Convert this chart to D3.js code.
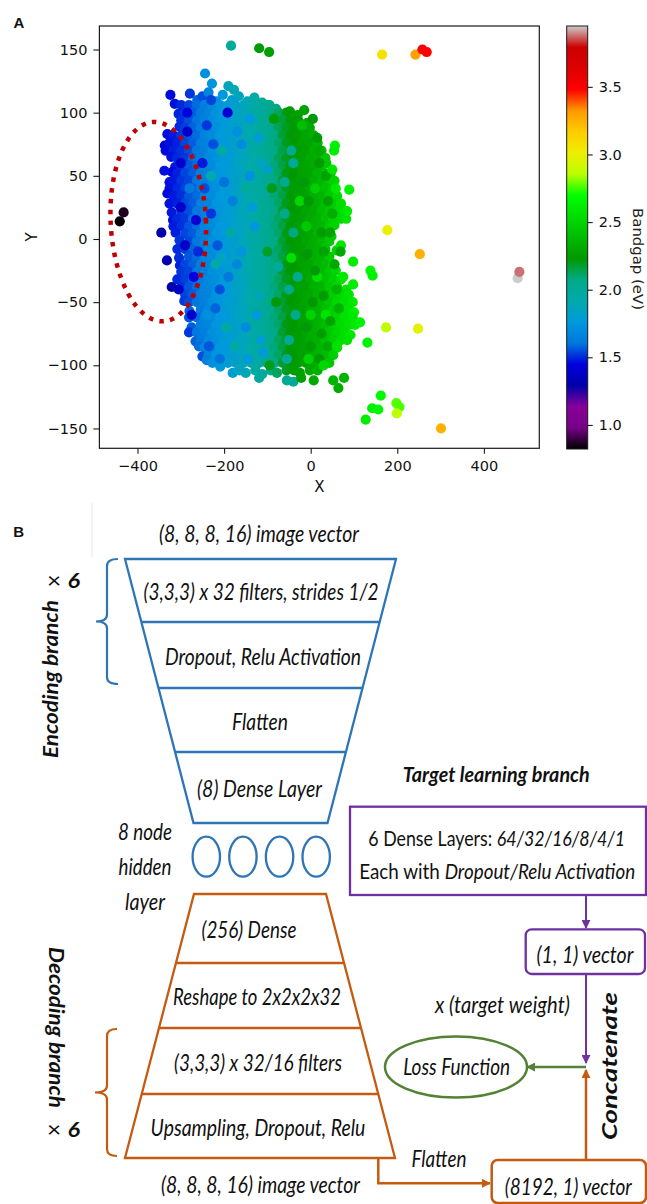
<!DOCTYPE html>
<html>
<head>
<meta charset="utf-8">
<script src="https://cdn.jsdelivr.net/npm/d3@7"></script>
<style>
  body { margin: 0; background: #fff; }
  text { white-space: pre; }
</style>
</head>
<body>
<svg id="fig" width="647" height="1204"></svg>
<script>
// ---------- panel A data ----------
const xTicks = [-400, -200, 0, 200, 400];
const yTicks = [-150, -100, -50, 0, 50, 100, 150];
const bandgapTicks = [1.0, 1.5, 2.0, 2.5, 3.0, 3.5];
const bandgapRange = [0.822, 3.95];

// matplotlib nipy_spectral, 21 evenly spaced stops
const nipySpectral = ["#000000","#770088","#880099","#0000aa","#0000dd","#0077dd","#0099dd",
  "#00aaaa","#00aa88","#009900","#00bb00","#00dd00","#00ff00","#bbff00","#eeee00",
  "#ffcc00","#ff9900","#ff0000","#dd0000","#cc0000","#cccccc"];

const clusterPoints = [
  [-244,131,1.72],[-228,123,1.74],[-190,121,1.86],[-177,118,1.90],
  [-324,114,1.46],[-279,115,1.52],[-262,110,1.58],[-250,113,1.55],[-236,116,1.66],[-218,109,1.72],[-203,114,1.76],[-182,110,1.80],[-166,113,1.84],[-146,109,1.90],[-130,112,1.94],[-112,108,2.00],[-95,106,2.05],
  [-314,107,1.47],[-299,106,1.50],[-281,106,1.54],[-263,106,1.59],[-245,106,1.64],[-227,106,1.70],[-209,106,1.74],[-191,106,1.78],[-173,106,1.82],[-155,106,1.87],[-137,106,1.91],[-119,106,1.96],[-101,106,2.03],[-80,103,2.08],
  [-305,99,1.49],[-290,100,1.52],[-272,100,1.57],[-254,100,1.62],[-236,100,1.67],[-218,100,1.73],[-200,100,1.76],[-182,100,1.80],[-164,100,1.85],[-146,100,1.88],[-128,100,1.95],[-110,100,1.99],[-92,100,2.05],[-74,100,2.12],[-56,100,2.21],[-48,101,2.24],[-30,98,2.26],[-15,102,2.28],
  [-299,94,1.51],[-281,94,1.55],[-263,94,1.60],[-245,94,1.65],[-227,94,1.71],[-209,94,1.75],[-191,94,1.78],[-173,94,1.83],[-155,94,1.86],[-137,94,1.93],[-119,94,1.97],[-101,94,2.02],[-83,94,2.09],[-65,94,2.16],[-47,94,2.22],[-29,94,2.25],[-8,92,2.28],
  [-303,89,1.50],[-290,88,1.53],[-272,88,1.58],[-254,88,1.63],[-236,88,1.68],[-218,88,1.72],[-200,88,1.77],[-182,88,1.81],[-164,88,1.83],[-146,88,1.90],[-128,88,1.94],[-110,88,2.01],[-92,88,2.04],[-74,88,2.13],[-56,88,2.19],[-38,88,2.24],[-20,88,2.26],[-2,88,2.30],
  [-331,83,1.46],[-317,82,1.48],[-299,82,1.52],[-281,82,1.56],[-263,82,1.59],[-245,82,1.67],[-227,82,1.70],[-209,82,1.76],[-191,82,1.79],[-173,82,1.81],[-155,82,1.88],[-137,82,1.91],[-119,82,1.98],[-101,82,2.02],[-83,82,2.07],[-65,82,2.17],[-47,82,2.22],[-29,82,2.25],[-11,82,2.29],[7,82,2.32],
  [-337,74,1.45],[-326,76,1.47],[-308,76,1.49],[-290,76,1.54],[-272,76,1.57],[-254,76,1.64],[-236,76,1.67],[-218,76,1.74],[-200,76,1.76],[-182,76,1.81],[-164,76,1.84],[-146,76,1.88],[-128,76,1.96],[-110,76,1.99],[-92,76,2.06],[-74,76,2.11],[-56,76,2.20],[-38,76,2.24],[-20,76,2.27],[-2,76,2.29],[16,76,2.35],
  [-335,70,1.46],[-317,70,1.49],[-299,70,1.51],[-281,70,1.55],[-263,70,1.61],[-245,70,1.65],[-227,70,1.72],[-209,70,1.74],[-191,70,1.79],[-173,70,1.83],[-155,70,1.86],[-137,70,1.93],[-119,70,1.96],[-101,70,2.03],[-83,70,2.07],[-65,70,2.15],[-47,70,2.23],[-29,70,2.25],[-11,70,2.27],[7,70,2.33],[25,70,2.37],
  [-322,65,1.47],[-308,64,1.50],[-290,64,1.52],[-272,64,1.59],[-254,64,1.62],[-236,64,1.69],[-218,64,1.72],[-200,64,1.78],[-182,64,1.79],[-164,64,1.85],[-146,64,1.89],[-128,64,1.94],[-110,64,2.01],[-92,64,2.04],[-74,64,2.13],[-56,64,2.19],[-38,64,2.24],[-20,64,2.26],[-2,64,2.31],[16,64,2.33],[34,64,2.41],
  [-313,57,1.48],[-299,58,1.51],[-281,58,1.56],[-263,58,1.59],[-245,58,1.67],[-227,58,1.70],[-209,58,1.76],[-191,58,1.77],[-173,58,1.83],[-155,58,1.88],[-137,58,1.91],[-119,58,1.98],[-101,58,2.01],[-83,58,2.09],[-65,58,2.15],[-47,58,2.22],[-29,58,2.26],[-11,58,2.28],[7,58,2.31],[25,58,2.38],[36,60,2.43],
  [-320,53,1.46],[-308,52,1.49],[-290,52,1.54],[-272,52,1.57],[-254,52,1.64],[-236,52,1.67],[-218,52,1.74],[-200,52,1.76],[-182,52,1.81],[-164,52,1.83],[-146,52,1.90],[-128,52,1.95],[-110,52,1.99],[-92,52,2.06],[-74,52,2.11],[-56,52,2.21],[-38,52,2.23],[-20,52,2.27],[-2,52,2.29],[16,52,2.35],[34,52,2.39],[46,52,2.46],
  [-326,45,1.47],[-317,46,1.48],[-299,46,1.52],[-281,46,1.54],[-263,46,1.61],[-245,46,1.65],[-227,46,1.72],[-209,46,1.74],[-191,46,1.79],[-173,46,1.82],[-155,46,1.87],[-137,46,1.92],[-119,46,1.96],[-101,46,2.03],[-83,46,2.07],[-65,46,2.17],[-47,46,2.23],[-29,46,2.25],[-11,46,2.29],[7,46,2.32],[25,46,2.37],[43,46,2.45],[55,46,2.50],
  [-326,40,1.47],[-308,40,1.50],[-290,40,1.53],[-272,40,1.58],[-254,40,1.62],[-236,40,1.69],[-218,40,1.72],[-200,40,1.78],[-182,40,1.80],[-164,40,1.85],[-146,40,1.88],[-128,40,1.96],[-110,40,2.00],[-92,40,2.04],[-74,40,2.12],[-56,40,2.19],[-38,40,2.25],[-20,40,2.26],[-2,40,2.31],[16,40,2.34],[34,40,2.41],[52,40,2.48],
  [-331,36,1.46],[-317,34,1.48],[-299,34,1.51],[-281,34,1.56],[-263,34,1.59],[-245,34,1.67],[-227,34,1.70],[-209,34,1.76],[-191,34,1.77],[-173,34,1.83],[-155,34,1.86],[-137,34,1.93],[-119,34,1.97],[-101,34,2.01],[-83,34,2.09],[-65,34,2.15],[-47,34,2.22],[-29,34,2.26],[-11,34,2.27],[7,34,2.33],[25,34,2.36],[43,34,2.44],[61,34,2.52],
  [-326,28,1.47],[-308,28,1.49],[-290,28,1.54],[-272,28,1.57],[-254,28,1.64],[-236,28,1.67],[-218,28,1.74],[-200,28,1.77],[-182,28,1.79],[-164,28,1.84],[-146,28,1.90],[-128,28,1.94],[-110,28,2.01],[-92,28,2.05],[-74,28,2.11],[-56,28,2.20],[-38,28,2.24],[-20,28,2.27],[-2,28,2.30],[16,28,2.33],[34,28,2.40],[52,28,2.47],[70,28,2.54],
  [-321,21,1.48],[-299,22,1.52],[-281,22,1.55],[-263,22,1.61],[-245,22,1.65],[-227,22,1.72],[-209,22,1.74],[-191,22,1.79],[-173,22,1.82],[-155,22,1.88],[-137,22,1.91],[-119,22,1.98],[-101,22,2.02],[-83,22,2.07],[-65,22,2.17],[-47,22,2.23],[-29,22,2.25],[-11,22,2.29],[7,22,2.31],[25,22,2.38],[43,22,2.43],[61,22,2.51],[79,22,2.56],
  [-318,15,1.47],[-308,16,1.50],[-290,16,1.52],[-272,16,1.59],[-254,16,1.62],[-236,16,1.69],[-218,16,1.72],[-200,16,1.78],[-182,16,1.80],[-164,16,1.85],[-146,16,1.88],[-128,16,1.96],[-110,16,1.99],[-92,16,2.06],[-74,16,2.12],[-56,16,2.19],[-38,16,2.25],[-20,16,2.26],[-2,16,2.31],[16,16,2.34],[34,16,2.41],[52,16,2.48],[70,16,2.53],[82,16,2.57],
  [-317,10,1.48],[-299,10,1.51],[-281,10,1.56],[-263,10,1.59],[-245,10,1.67],[-227,10,1.70],[-209,10,1.76],[-191,10,1.77],[-173,10,1.83],[-155,10,1.86],[-137,10,1.93],[-119,10,1.97],[-101,10,2.01],[-83,10,2.09],[-65,10,2.15],[-47,10,2.22],[-29,10,2.26],[-11,10,2.27],[7,10,2.33],[25,10,2.36],[43,10,2.45],[55,11,2.50],
  [-312,5,1.49],[-290,4,1.54],[-272,4,1.57],[-254,4,1.64],[-236,4,1.67],[-218,4,1.74],[-200,4,1.76],[-182,4,1.81],[-164,4,1.83],[-146,4,1.90],[-128,4,1.95],[-110,4,1.99],[-92,4,2.06],[-74,4,2.11],[-56,4,2.21],[-38,4,2.23],[-20,4,2.27],[-2,4,2.29],[16,4,2.35],[34,4,2.39],[48,2,2.47],
  [-303,-1,1.52],[-281,-2,1.54],[-263,-2,1.61],[-245,-2,1.65],[-227,-2,1.72],[-209,-2,1.74],[-191,-2,1.79],[-173,-2,1.82],[-155,-2,1.87],[-137,-2,1.92],[-119,-2,1.96],[-101,-2,2.03],[-83,-2,2.07],[-65,-2,2.17],[-47,-2,2.23],[-29,-2,2.25],[-11,-2,2.29],[7,-2,2.32],[25,-2,2.37],[43,-2,2.44],
  [-308,-8,1.50],[-290,-8,1.53],[-272,-8,1.58],[-254,-8,1.62],[-236,-8,1.69],[-218,-8,1.72],[-200,-8,1.78],[-182,-8,1.80],[-164,-8,1.85],[-146,-8,1.88],[-128,-8,1.96],[-110,-8,2.00],[-92,-8,2.04],[-74,-8,2.12],[-56,-8,2.19],[-38,-8,2.25],[-20,-8,2.26],[-2,-8,2.31],[16,-8,2.34],[34,-8,2.41],[60,-9,2.48],
  [-304,-15,1.51],[-281,-14,1.56],[-263,-14,1.59],[-245,-14,1.67],[-227,-14,1.70],[-209,-14,1.76],[-191,-14,1.77],[-173,-14,1.83],[-155,-14,1.86],[-137,-14,1.93],[-119,-14,1.97],[-101,-14,2.01],[-83,-14,2.09],[-65,-14,2.15],[-47,-14,2.22],[-29,-14,2.26],[-11,-14,2.27],[7,-14,2.33],[25,-14,2.36],[43,-14,2.45],
  [-302,-21,1.49],[-290,-20,1.54],[-272,-20,1.57],[-254,-20,1.64],[-236,-20,1.67],[-218,-20,1.74],[-200,-20,1.76],[-182,-20,1.81],[-164,-20,1.83],[-146,-20,1.90],[-128,-20,1.95],[-110,-20,1.99],[-92,-20,2.06],[-74,-20,2.11],[-56,-20,2.21],[-38,-20,2.23],[-20,-20,2.27],[-2,-20,2.29],[16,-20,2.35],[34,-20,2.39],[52,-20,2.49],
  [-299,-26,1.52],[-281,-26,1.54],[-263,-26,1.61],[-245,-26,1.65],[-227,-26,1.72],[-209,-26,1.74],[-191,-26,1.79],[-173,-26,1.82],[-155,-26,1.87],[-137,-26,1.92],[-119,-26,1.96],[-101,-26,2.03],[-83,-26,2.07],[-65,-26,2.17],[-47,-26,2.23],[-29,-26,2.25],[-11,-26,2.29],[7,-26,2.32],[25,-26,2.37],[43,-26,2.44],[58,-25,2.51],
  [-308,-32,1.50],[-290,-32,1.53],[-272,-32,1.58],[-254,-32,1.62],[-236,-32,1.69],[-218,-32,1.72],[-200,-32,1.78],[-182,-32,1.80],[-164,-32,1.85],[-146,-32,1.88],[-128,-32,1.96],[-110,-32,2.00],[-92,-32,2.04],[-74,-32,2.12],[-56,-32,2.19],[-38,-32,2.25],[-20,-32,2.26],[-2,-32,2.31],[16,-32,2.34],[34,-32,2.41],[52,-32,2.48],[70,-32,2.54],
  [-299,-38,1.51],[-281,-38,1.56],[-263,-38,1.59],[-245,-38,1.67],[-227,-38,1.70],[-209,-38,1.76],[-191,-38,1.77],[-173,-38,1.83],[-155,-38,1.86],[-137,-38,1.93],[-119,-38,1.97],[-101,-38,2.01],[-83,-38,2.09],[-65,-38,2.15],[-47,-38,2.22],[-29,-38,2.26],[-11,-38,2.27],[7,-38,2.33],[25,-38,2.36],[43,-38,2.45],[61,-38,2.50],[82,-40,2.56],
  [-290,-44,1.54],[-272,-44,1.57],[-254,-44,1.64],[-236,-44,1.67],[-218,-44,1.74],[-200,-44,1.76],[-182,-44,1.81],[-164,-44,1.83],[-146,-44,1.90],[-128,-44,1.95],[-110,-44,1.99],[-92,-44,2.06],[-74,-44,2.11],[-56,-44,2.21],[-38,-44,2.23],[-20,-44,2.27],[-2,-44,2.29],[16,-44,2.35],[34,-44,2.39],[52,-44,2.48],[70,-44,2.53],[88,-44,2.58],
  [-292,-49,1.52],[-281,-50,1.55],[-263,-50,1.61],[-245,-50,1.65],[-227,-50,1.72],[-209,-50,1.74],[-191,-50,1.79],[-173,-50,1.82],[-155,-50,1.87],[-137,-50,1.92],[-119,-50,1.96],[-101,-50,2.03],[-83,-50,2.07],[-65,-50,2.17],[-47,-50,2.23],[-29,-50,2.25],[-11,-50,2.29],[7,-50,2.32],[25,-50,2.37],[43,-50,2.44],[61,-50,2.51],[79,-50,2.55],[97,-50,2.60],
  [-280,-57,1.58],[-254,-56,1.62],[-236,-56,1.69],[-218,-56,1.72],[-200,-56,1.78],[-182,-56,1.80],[-164,-56,1.85],[-146,-56,1.88],[-128,-56,1.96],[-110,-56,2.00],[-92,-56,2.04],[-74,-56,2.12],[-56,-56,2.19],[-38,-56,2.25],[-20,-56,2.26],[-2,-56,2.31],[16,-56,2.34],[34,-56,2.41],[52,-56,2.48],[70,-56,2.54],[88,-56,2.57],[100,-58,2.62],
  [-281,-62,1.56],[-263,-62,1.59],[-245,-62,1.67],[-227,-62,1.70],[-209,-62,1.76],[-191,-62,1.77],[-173,-62,1.83],[-155,-62,1.86],[-137,-62,1.93],[-119,-62,1.97],[-101,-62,2.01],[-83,-62,2.09],[-65,-62,2.15],[-47,-62,2.22],[-29,-62,2.26],[-11,-62,2.27],[7,-62,2.33],[25,-62,2.36],[43,-62,2.45],[61,-62,2.50],[79,-62,2.56],[97,-62,2.59],
  [-275,-70,1.57],[-254,-68,1.64],[-236,-68,1.67],[-218,-68,1.74],[-200,-68,1.76],[-182,-68,1.81],[-164,-68,1.83],[-146,-68,1.90],[-128,-68,1.95],[-110,-68,1.99],[-92,-68,2.06],[-74,-68,2.11],[-56,-68,2.21],[-38,-68,2.23],[-20,-68,2.27],[-2,-68,2.29],[16,-68,2.35],[34,-68,2.39],[52,-68,2.48],[70,-68,2.53],[88,-68,2.58],
  [-281,-74,1.52],[-263,-74,1.61],[-245,-74,1.65],[-227,-74,1.72],[-209,-74,1.74],[-191,-74,1.79],[-173,-74,1.82],[-155,-74,1.87],[-137,-74,1.92],[-119,-74,1.96],[-101,-74,2.03],[-83,-74,2.07],[-65,-74,2.17],[-47,-74,2.23],[-29,-74,2.25],[-11,-74,2.29],[7,-74,2.32],[25,-74,2.37],[43,-74,2.44],[61,-74,2.51],[79,-74,2.55],[92,-76,2.60],
  [-266,-81,1.58],[-254,-80,1.62],[-236,-80,1.69],[-218,-80,1.72],[-200,-80,1.78],[-182,-80,1.80],[-164,-80,1.85],[-146,-80,1.88],[-128,-80,1.96],[-110,-80,2.00],[-92,-80,2.04],[-74,-80,2.12],[-56,-80,2.19],[-38,-80,2.25],[-20,-80,2.26],[-2,-80,2.31],[16,-80,2.34],[34,-80,2.41],[52,-80,2.48],[70,-80,2.54],[84,-80,2.57],
  [-258,-85,1.59],[-245,-86,1.67],[-227,-86,1.70],[-209,-86,1.76],[-191,-86,1.77],[-173,-86,1.83],[-155,-86,1.86],[-137,-86,1.93],[-119,-86,1.97],[-101,-86,2.01],[-83,-86,2.09],[-65,-86,2.15],[-47,-86,2.22],[-29,-86,2.26],[-11,-86,2.27],[7,-86,2.33],[25,-86,2.36],[43,-86,2.45],[61,-86,2.50],
  [-250,-93,1.55],[-236,-92,1.67],[-218,-92,1.74],[-200,-92,1.76],[-182,-92,1.81],[-164,-92,1.83],[-146,-92,1.90],[-128,-92,1.95],[-110,-92,1.99],[-92,-92,2.06],[-74,-92,2.11],[-56,-92,2.21],[-38,-92,2.23],[-20,-92,2.27],[-2,-92,2.29],[16,-92,2.35],[34,-92,2.39],[52,-92,2.48],
  [-240,-96,1.64],[-227,-98,1.72],[-209,-98,1.74],[-191,-98,1.79],[-173,-98,1.82],[-155,-98,1.87],[-137,-98,1.92],[-119,-98,1.96],[-101,-98,2.03],[-83,-98,2.07],[-65,-98,2.17],[-47,-98,2.23],[-29,-98,2.25],[-11,-98,2.29],[7,-98,2.32],[25,-98,2.37],[43,-98,2.44],
  [-209,-101,1.78],[-180,-106,1.80],[-164,-104,1.85],[-150,-106,1.88],[-128,-104,1.96],[-112,-107,2.00],[-92,-104,2.04],[-78,-106,2.12],[-56,-104,2.19],[-38,-104,2.25],[-25,-106,2.26],[-2,-104,2.31],[16,-104,2.34],
  [-119,-110,1.97],[-55,-112,2.02],[-40,-113,2.00],[-22,-110,2.26],[7,-112,2.30]
];

// off-colour points scattered through the cluster
const mixedPoints = [
  [-250,60,1.48],[-230,20,1.52],[-210,-40,1.55],[-260,-10,1.50],[-240,90,1.52],[-192,100,1.42],[-285,100,1.45],
  [-180,30,1.65],[-150,-70,1.70],[-140,50,1.72],[-170,-20,1.68],[-120,80,1.80],[-110,-90,1.78],[-130,10,1.75],[-160,75,1.70],
  [-90,40,2.20],[-80,-50,2.22],[-100,-10,2.18],[-85,95,2.25],[-95,-100,2.20],[-75,-22,1.98],[-120,-45,1.88],
  [-60,20,2.05],[-50,-80,2.02],[-40,60,2.00],[-30,-30,2.05],[-20,90,2.40],[-10,10,2.45],[0,-60,2.50],[10,40,2.48],[-5,-95,2.50],
  [20,70,2.30],[30,-10,2.28],[40,-85,2.30],[50,20,2.32],[60,-40,2.35],[35,-60,2.58],[15,-30,2.55],[-45,-15,2.55],[-25,30,2.52],
  [-240,-60,1.72],[-280,40,1.62],[-270,-30,1.45],[-300,60,1.40],[-205,-15,1.85],[-150,40,1.98],[-175,-85,1.95],[-115,60,1.85],
  [5,95,2.22],[20,60,2.24],[-5,30,2.22],[25,5,2.25],[10,-25,2.22],[30,-45,2.24],[-10,-70,2.22],[20,-95,2.24],[45,-65,2.28],
  [40,30,2.26],[55,-20,2.30],[-15,45,2.22],[5,-50,2.23],[15,80,2.24],[-8,-12,2.22],[35,50,2.27],[0,-85,2.24],[45,5,2.28],
  [65,-55,2.34],[25,-75,2.25],[-45,70,2.02],[-35,-60,2.05],[-55,-95,2.00],[-60,45,2.05],[-40,5,2.08],[-50,-40,2.04],
  [-140,95,1.76],[-125,-60,1.78],[-160,-10,1.74],[-135,25,1.78],[-115,-80,1.80],[-100,55,1.82],[-145,-95,1.76],[-170,85,1.72],
  [-225,75,1.55],[-215,-5,1.56],[-235,-85,1.56],[-200,45,1.60],[-220,-55,1.58],[-190,-30,1.62],[-245,40,1.55],[-230,110,1.54],[-210,-95,1.60],
  [-205,70,1.95],[-220,-20,1.92],[-195,-70,1.95],[-230,50,1.90],[-185,5,1.96],
  [-290,-5,1.38],[-300,25,1.40],[-275,-60,1.40],[-285,85,1.38],[-305,-40,1.40],[-265,15,1.42],
  [50,55,2.58],[70,-5,2.58],[30,-100,2.52],[60,-85,2.56],[75,-30,2.60]
];

// points lying outside the main cluster
const outlierPoints = [
  [-441,14,0.82],[-432,21,0.86],
  [-345,5,1.30],[-338,54,1.47],[-332,-17,1.31],[-321,-38,1.30],
  [-184,153,2.00],[-119,151,2.24],[-96,148,2.26],
  [165,146,3.07],[242,146,3.30],[258,150,3.52],[268,148,3.48],
  [177,7,3.01],[252,-12,3.25],[478,-31,3.95],[482,-26,3.88],
  [174,-70,2.88],[248,-71,2.98],[301,-150,3.25],
  [162,-124,2.68],[142,-134,2.64],[156,-135,2.66],[127,-143,2.62],
  [198,-130,2.77],[205,-133,2.76],[199,-138,2.86],
  [131,-82,2.64],[138,-25,2.66],[143,-29,2.64],[98,-18,2.62],[98,-36,2.61],[69,-10,2.30],
  [102,-68,2.60],[114,-66,2.64],[77,-110,2.36],[64,-118,2.32],[52,-112,2.36],
  [84,22,2.60],[89,39,2.64],[58,40,2.60],[56,74,2.65],[54,70,2.62]
];

// ---------- panel B labels ----------
const encoderLayers = ["(3,3,3) x 32 filters, strides 1/2", "Dropout, Relu Activation", "Flatten", "(8) Dense Layer"];
const decoderLayers = ["(256) Dense", "Reshape to 2x2x2x32", "(3,3,3) x 32/16 filters", "Upsampling, Dropout, Relu"];
const hiddenNodes = ["n1", "n2", "n3", "n4"];
const hiddenLabel = ["8 node", "hidden", "layer"];

const svg = d3.select("#fig");
const defs = svg.append("defs");
const MPL = "'DejaVu Sans', sans-serif";
const CAL = "Lato, 'Open Sans', sans-serif";
const BLUE = "#2e75b6", ORANGE = "#c55a11", PURPLE = "#7030a0", GREEN = "#548235";

// text helper: squeezes the text to a measured width with a transform
function label(x0, y0, parts, o = {}) {
  const g = svg.append("g").attr("transform", `translate(${x0},${y0})` + (o.rotate ? ` rotate(${o.rotate})` : ""));
  const t = g.append("text").attr("text-anchor", o.anchor || "middle")
    .attr("font-family", o.family || CAL).attr("font-size", o.size || 22).attr("fill", o.fill || "#111");
  if (typeof parts === "string") parts = [[parts, o.style || "italic", o.weight || "normal"]];
  parts.forEach(p => t.append("tspan").attr("font-style", p[1]).attr("font-weight", p[2] || "normal")
    .attr("font-size", p[3] || null).text(p[0]));
  if (o.len) {
    const w = t.node().getComputedTextLength();
    if (w > 0) t.attr("transform", `scale(${o.len / w},1)`);
  }
  return t;
}

// ================= PANEL A =================
const plot = { left: 99.4, right: 539.3, top: 26, bottom: 448.3 };
const x = d3.scaleLinear().domain([-488, 528]).range([plot.left, plot.right]);
const y = d3.scaleLinear().domain([-165.7, 168.6]).range([plot.bottom, plot.top]);
const bgStops = nipySpectral.map((c, i) => bandgapRange[0] + i / 20 * (bandgapRange[1] - bandgapRange[0]));
const colour = d3.scaleLinear().domain(bgStops).range(nipySpectral).clamp(true);

label(13.5, 27.5, [["A", "normal", "bold"]], { anchor: "start", family: "'Liberation Sans', Arial, sans-serif", size: 15 });

const pts = svg.append("g");
[clusterPoints, mixedPoints, outlierPoints].forEach(set => {
  pts.append("g").selectAll("circle").data(set).join("circle")
    .attr("cx", d => x(d[0])).attr("cy", d => y(d[1])).attr("r", 5.1)
    .attr("fill", d => colour(d[2]));
});

// dotted red ellipse around the outlying region
const ring = { cx: -352, cy: 13.7, rx: 110, ry: 79, tilt: -2.9 };
svg.append("ellipse")
  .attr("cx", x(ring.cx)).attr("cy", y(ring.cy))
  .attr("rx", x(ring.cx + ring.rx) - x(ring.cx)).attr("ry", y(ring.cy) - y(ring.cy + ring.ry))
  .attr("transform", `rotate(${ring.tilt},${x(ring.cx)},${y(ring.cy)})`)
  .attr("fill", "none").attr("stroke", "#c00000").attr("stroke-width", 4.5)
  .attr("stroke-dasharray", "4.5 6.3");

svg.append("rect").attr("x", plot.left).attr("y", plot.top)
  .attr("width", plot.right - plot.left).attr("height", plot.bottom - plot.top)
  .attr("fill", "none").attr("stroke", "#1a1a1a").attr("stroke-width", 1.2);

function styleAxis(g) {
  g.select(".domain").remove();
  g.selectAll("line").attr("stroke", "#1a1a1a").attr("stroke-width", 1.1);
  g.selectAll("text").attr("font-family", MPL).attr("font-size", 14.5).attr("fill", "#111");
}

svg.append("g").attr("transform", `translate(0,${plot.bottom})`)
  .call(d3.axisBottom(x).tickValues(xTicks).tickSize(5.5).tickPadding(7.4).tickFormat(d3.format("d")))
  .call(styleAxis);
svg.append("g").attr("transform", `translate(${plot.left},0)`)
  .call(d3.axisLeft(y).tickValues(yTicks).tickSize(6).tickPadding(6).tickFormat(d3.format("d")))
  .call(styleAxis);

label((plot.left + plot.right) / 2, 492, [["X", "normal"]], { family: MPL, size: 15 });
label(37, 237, [["Y", "normal"]], { family: MPL, size: 15, rotate: -90 });

// colour bar
const cb = { x: 566.7, w: 21, top: 26, bottom: 449 };
const cbY = d3.scaleLinear().domain(bandgapRange).range([cb.bottom, cb.top]);
const grad = defs.append("linearGradient").attr("id", "nipy")
  .attr("x1", 0).attr("y1", 1).attr("x2", 0).attr("y2", 0);
nipySpectral.forEach((c, i) => grad.append("stop").attr("offset", i / 20).attr("stop-color", c));
svg.append("rect").attr("x", cb.x).attr("y", cb.top).attr("width", cb.w).attr("height", cb.bottom - cb.top)
  .attr("fill", "url(#nipy)").attr("stroke", "#1a1a1a").attr("stroke-width", 1);
svg.append("g").attr("transform", `translate(${cb.x + cb.w},0)`)
  .call(d3.axisRight(cbY).tickValues(bandgapTicks).tickSize(5).tickPadding(6).tickFormat(d3.format(".1f")))
  .call(styleAxis);
label(633, 259, [["Bandgap (eV)", "normal"]], { family: MPL, size: 14.5, len: 102, rotate: 90, fill: "#222" });

// ================= PANEL B =================
label(13.3, 537, [["B", "normal", "bold"]], { anchor: "start", family: "'Liberation Sans', Arial, sans-serif", size: 15 });
svg.append("line").attr("x1", 92).attr("x2", 92).attr("y1", 503).attr("y2", 557).attr("stroke", "#e8e8e8");

// trapezoid stacks
function stack(bounds, halfTop, halfBot, cx, names, centres, widths, col) {
  const top = bounds[0], bot = bounds[bounds.length - 1];
  const hw = d3.scaleLinear().domain([top, bot]).range([halfTop, halfBot]);
  svg.append("path").attr("fill", "none").attr("stroke", col).attr("stroke-width", 2.3)
    .attr("d", `M${cx - hw(top)},${top}L${cx + hw(top)},${top}L${cx + hw(bot)},${bot}L${cx - hw(bot)},${bot}Z`);
  bounds.slice(1, -1).forEach(b => svg.append("line").attr("stroke", col).attr("stroke-width", 2.3)
    .attr("x1", cx - hw(b)).attr("x2", cx + hw(b)).attr("y1", b).attr("y2", b));
  names.forEach((n, i) => label(centres[i], (bounds[i] + bounds[i + 1]) / 2 + 9.5, n, { size: 23, len: widths[i] }));
}

stack([559, 622, 688, 752, 823], 135.5, 67, 260.5, encoderLayers, [261, 263, 260, 259.5], [235, 196, 56, 125], BLUE);
stack([894, 963, 1028, 1094, 1158], 66, 135, 260, decoderLayers, [249, 257, 258, 258], [95, 168, 168, 215], ORANGE);

label(259, 542, "(8, 8, 8, 16) image vector", { size: 24, len: 200 });
label(260.5, 1193.3, "(8, 8, 8, 16) image vector", { size: 24, len: 199 });

// hidden layer nodes
const nodeX = d3.scalePoint().domain(hiddenNodes).range([206.3, 316.2]);
svg.append("g").selectAll("ellipse").data(hiddenNodes).join("ellipse")
  .attr("cx", d => nodeX(d)).attr("cy", 856.7).attr("rx", 13.7).attr("ry", 20)
  .attr("fill", "none").attr("stroke", BLUE).attr("stroke-width", 2.3);
hiddenLabel.forEach((t, i) => label(145, 840 + i * 35, t, { size: 23, len: [54, 53, 40][i] }));

// braces
function brace(x0, y1, y2, tipX, hookX, col) {
  const m = (y1 + y2) / 2, r = 7;
  svg.append("path").attr("fill", "none").attr("stroke", col).attr("stroke-width", 2.2)
    .attr("d", `M${hookX},${y1}Q${x0},${y1} ${x0},${y1 + r}L${x0},${m - r}Q${x0},${m} ${tipX},${m}` +
               `Q${x0},${m} ${x0},${m + r}L${x0},${y2 - r}Q${x0},${y2} ${hookX},${y2}`);
}
brace(107, 559, 684, 96, 118, BLUE);
brace(107, 1029, 1156, 95, 117, ORANGE);

label(58, 679, "Encoding branch", { size: 20, weight: "bold", len: 158, rotate: -90 });
label(48.5, 1027.5, "Decoding branch", { size: 20, weight: "bold", len: 161, rotate: 90 });
label(47, 588, [["× ", "normal", "normal", 22], ["6", "italic", "bold"]], { anchor: "start", size: 21, len: 33 });
label(47, 1137, [["× ", "normal", "normal", 22], ["6", "italic", "bold"]], { anchor: "start", size: 21, len: 33 });

// target learning branch
label(496.3, 781.7, "Target learning branch", { size: 21.5, weight: "bold", len: 187 });
svg.append("rect").attr("x", 350).attr("y", 806.7).attr("width", 296).attr("height", 88.3)
  .attr("fill", "none").attr("stroke", PURPLE).attr("stroke-width", 2.3);
label(496.7, 845.7, [["6 Dense Layers: ", "normal"], ["64/32/16/8/4/1", "italic"]], { size: 22, len: 257 });
label(497.2, 879, [["Each with ", "normal"], ["Dropout/Relu Activation", "italic"]], { size: 22, len: 276 });

svg.append("rect").attr("x", 525.7).attr("y", 929.3).attr("width", 119.3).attr("height", 44.7).attr("rx", 6)
  .attr("fill", "none").attr("stroke", PURPLE).attr("stroke-width", 2.3);
label(585, 963.3, "(1, 1) vector", { size: 23, len: 97 });

label(502.5, 1013.3, "x (target weight)", { size: 23, len: 135 });
svg.append("ellipse").attr("cx", 456).attr("cy", 1067).attr("rx", 71).attr("ry", 30.5)
  .attr("fill", "none").attr("stroke", GREEN).attr("stroke-width", 2.5);
label(456.7, 1075, "Loss Function", { size: 24, len: 107 });

label(617, 1066, "Concatenate", { size: 20, weight: "bold", len: 148, rotate: -90 });
label(439, 1166.7, "Flatten", { size: 23, len: 55 });

svg.append("rect").attr("x", 491.7).attr("y", 1160).attr("width", 154.3).attr("height", 43).attr("rx", 6)
  .attr("fill", "none").attr("stroke", ORANGE).attr("stroke-width", 2.5);
label(568.3, 1195, "(8192, 1) vector", { size: 23, len: 127 });

// arrows
[["aP", PURPLE], ["aG", GREEN], ["aO", ORANGE]].forEach(([id, c]) => {
  defs.append("marker").attr("id", id).attr("viewBox", "0 0 10 10").attr("refX", 9).attr("refY", 5)
    .attr("markerUnits", "userSpaceOnUse").attr("markerWidth", 9).attr("markerHeight", 9)
    .attr("orient", "auto").append("path").attr("d", "M0,0L10,5L0,10Z").attr("fill", c);
});
function arrow(d, col, mk, w) {
  svg.append("path").attr("d", d).attr("fill", "none").attr("stroke", col)
    .attr("stroke-width", w || 2).attr("marker-end", `url(#${mk})`);
}
arrow("M586,895L586,928", PURPLE, "aP");
arrow("M586,974L586,1063", PURPLE, "aP");
arrow("M586,1067L527,1067", GREEN, "aG", 2.5);
arrow("M586,1160L586,1070", ORANGE, "aO", 2.5);
arrow("M378.3,1158L378.3,1183.3L490,1183.3", ORANGE, "aO", 2.5);
</script>
</body>
</html>
